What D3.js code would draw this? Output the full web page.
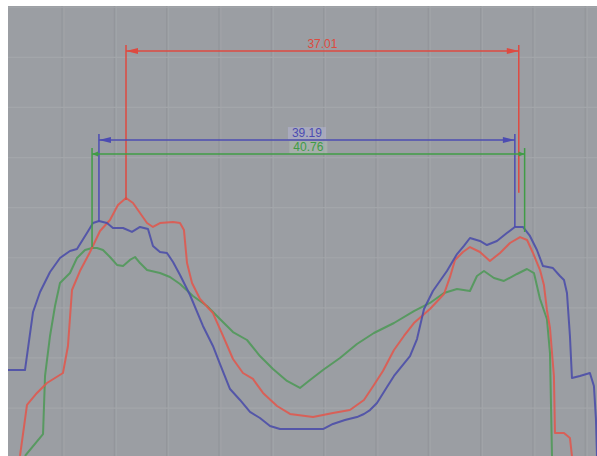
<!DOCTYPE html>
<html>
<head>
<meta charset="utf-8">
<script src="https://cdn.jsdelivr.net/npm/d3@7/dist/d3.min.js"></script>
<style>
  html, body { margin: 0; padding: 0; background: #fff; }
  svg { display: block; }
  text { font-family: "Liberation Sans", Arial, sans-serif; }
</style>
</head>
<body>
<svg id="chart" width="597" height="456"></svg>
<script>
// Profile traces (mm): x positions and heights
const blueX = [0,1.60,2.36,3.02,3.96,4.90,5.84,6.50,7.44,8.01,8.57,9.33,9.89,10.84,11.68,12.44,13.19,13.66,14.32,14.98,15.55,16.21,17.15,18.37,19.31,19.97,20.92,21.86,22.80,23.74,24.69,25.63,27.51,29.68,30.62,31.75,32.88,33.54,34.11,34.77,35.71,36.37,37.88,38.54,39.20,40.04,41.36,42.31,42.96,43.53,44.47,45.13,46.07,47.01,47.76,48.52,49.18,49.84,50.41,51.35,52.01,52.39,52.67,52.95,53.14,53.89,54.83,55.21,55.40,55.50];
const blueY = [8.10,8.10,13.57,15.45,17.34,18.66,19.32,19.50,21.01,21.95,22.14,21.95,21.48,21.48,21.11,21.58,21.39,19.79,19.22,19.13,18.28,17.05,15.17,12.25,10.37,8.67,6.31,5.28,4.15,3.58,2.83,2.54,2.54,2.54,3.02,3.39,3.67,3.96,4.33,4.99,6.50,7.54,9.42,11.02,13.85,15.55,17.43,19.03,19.79,20.54,20.26,19.88,20.26,21.01,21.58,21.58,20.73,19.41,17.90,17.71,16.96,16.58,15.36,11.31,7.35,7.54,7.82,6.60,3.50,0];

const redX = [1.13,1.79,2.73,3.67,5.18,5.65,6.03,6.78,7.73,8.67,9.61,10.36,11.12,11.78,12.44,13.10,13.66,14.32,15.55,16.21,16.58,16.87,17.34,17.81,18.09,19.31,20.26,21.20,22.14,23.08,24.03,25.35,26.57,28.74,30.62,32.22,33.54,34.48,35.33,36.37,37.31,38.25,39.76,41.08,41.65,42.12,42.87,43.53,44.47,45.41,46.36,47.30,48.25,48.91,49.47,50.13,50.50,50.78,51.07,51.44,51.54,52.39,52.95,53.14];
const redY = [0,4.81,5.94,6.88,7.82,10.36,15.64,17.43,19.22,21.20,22.24,23.65,24.31,23.84,22.90,21.95,21.58,21.95,22.05,21.95,21.29,18.18,16.30,15.36,14.79,13.47,11.31,9.14,7.82,7.26,5.94,4.71,3.96,3.67,4.05,4.33,5.28,6.69,8.01,9.99,11.31,12.53,13.85,15.26,16.87,18.47,19.22,19.69,19.22,18.37,19.13,20.07,20.63,20.35,19.13,17.52,16.11,13.76,12.06,7.54,2.17,2.17,1.70,0];

const greenX = [1.60,3.30,3.49,3.96,4.43,4.90,5.84,6.50,7.26,7.92,8.39,8.95,9.61,10.27,10.84,11.49,11.97,12.44,13.10,14.32,15.26,16.21,17.43,18.75,19.97,21.20,22.52,23.74,24.97,26.29,27.51,28.46,29.68,31.28,32.88,34.48,36.37,38.25,39.76,41.08,42.31,43.53,44.19,44.85,45.79,46.73,47.96,48.90,49.56,50.13,50.78,51.07,51.26];
const greenY = [0,2.07,7.54,11.31,14.13,16.30,17.24,18.66,19.41,19.60,19.60,19.41,18.75,18.00,17.90,18.47,18.75,18.18,17.52,17.24,16.87,16.21,15.08,14.13,12.91,11.68,10.93,9.42,8.20,7.07,6.41,7.16,8.10,9.23,10.55,11.59,12.53,13.66,14.42,15.36,15.73,15.55,16.96,17.43,16.77,16.49,17.15,17.62,17.24,14.79,12.91,9.70,0];

// Width dimensions (mm)
const dimLabels = ["37.01", "39.19", "40.76"];
const dimValues = [37.01, 39.19, 40.76];
const dimStarts = [11.12, 8.57, 7.92];
const dimFootLeft = [24.12, 22.05, 19.69];
const dimFootRight = [24.80, 21.58, 21.11];

const colors = { blue: "#4a4ca8", red: "#e0584d", green: "#4f9858" };
const dimColors = ["#de4a40", "#4c4cb2", "#409c46"];
const dimLevels = [38.16, 29.77, 28.45];
const labelBg = [null, "#b2b3cf", "#adbab1"];

const svg = d3.select("#chart");
const W = 597, H = 456;
const plotLeft = 8, plotTop = 6;

const x = d3.scaleLinear().domain([0, 55.5]).range([plotLeft, W]);
const y = d3.scaleLinear().domain([0, 42.4]).range([H, plotTop]);

// Background
svg.append("rect").attr("width", W).attr("height", H).attr("fill", "#ffffff");
svg.append("rect")
  .attr("x", plotLeft).attr("y", plotTop)
  .attr("width", W - plotLeft).attr("height", H - plotTop)
  .attr("fill", "#9b9ea3");

// Grid
const gridX = d3.range(5.09, 55.5, 4.93);
const gridY = d3.range(4.52, 42.4, 4.72);
const grid = svg.append("g");
grid.selectAll("line.v").data(gridX).join("line")
  .attr("x1", d => x(d)).attr("x2", d => x(d))
  .attr("y1", plotTop).attr("y2", H)
  .attr("stroke", "#93969b").attr("stroke-width", 1.2);
grid.selectAll("line.v2").data(gridX).join("line")
  .attr("x1", d => x(d) + 2).attr("x2", d => x(d) + 2)
  .attr("y1", plotTop).attr("y2", H)
  .attr("stroke", "#a2a5a9").attr("stroke-width", 1);
grid.selectAll("line.h").data(gridY).join("line")
  .attr("x1", plotLeft).attr("x2", W)
  .attr("y1", d => y(d)).attr("y2", d => y(d))
  .attr("stroke", "#a3a6aa").attr("stroke-width", 1.2);

// Profiles
const line = d3.line().x(d => x(d[0])).y(d => y(d[1]));
const series = [
  { xs: greenX, ys: greenY, c: colors.green },
  { xs: redX, ys: redY, c: colors.red },
  { xs: blueX, ys: blueY, c: colors.blue }
];
svg.append("g").selectAll("path").data(series).join("path")
  .attr("d", s => line(d3.zip(s.xs, s.ys)))
  .attr("fill", "none")
  .attr("stroke", s => s.c)
  .attr("stroke-width", 2)
  .attr("stroke-linejoin", "round")
  .attr("opacity", 0.88);

// Dimensions
const dims = svg.append("g");
dimValues.forEach((v, i) => {
  const x0 = x(dimStarts[i]);
  const x1 = x(dimStarts[i] + v);
  const yl = y(dimLevels[i]);
  const c = dimColors[i];
  const g = dims.append("g");
  // extension lines
  g.append("line").attr("x1", x0).attr("x2", x0)
    .attr("y1", yl - 6).attr("y2", y(dimFootLeft[i]))
    .attr("stroke", c).attr("stroke-width", 1.5);
  g.append("line").attr("x1", x1).attr("x2", x1)
    .attr("y1", yl - 6).attr("y2", y(dimFootRight[i]))
    .attr("stroke", c).attr("stroke-width", 1.5);
  // dimension line
  g.append("line").attr("x1", x0).attr("x2", x1)
    .attr("y1", yl).attr("y2", yl)
    .attr("stroke", c).attr("stroke-width", 1.5);
  // arrowheads
  const al = i === 2 ? 6 : 12, aw = i === 2 ? 2.5 : 3;
  g.append("path").attr("d", `M${x0},${yl}L${x0 + al},${yl - aw}L${x0 + al},${yl + aw}Z`).attr("fill", c);
  g.append("path").attr("d", `M${x1},${yl}L${x1 - al},${yl - aw}L${x1 - al},${yl + aw}Z`).attr("fill", c);
  // label
  const cx = (x0 + x1) / 2;
  if (labelBg[i]) {
    g.append("rect").attr("x", cx - 19).attr("y", yl - 13).attr("width", 38).attr("height", 12)
      .attr("fill", labelBg[i]).attr("opacity", 0.6);
  }
  g.append("text").attr("x", cx).attr("y", yl - 3)
    .attr("text-anchor", "middle")
    .attr("font-size", 12)
    .attr("fill", c)
    .text(dimLabels[i]);
});
</script>
</body>
</html>
